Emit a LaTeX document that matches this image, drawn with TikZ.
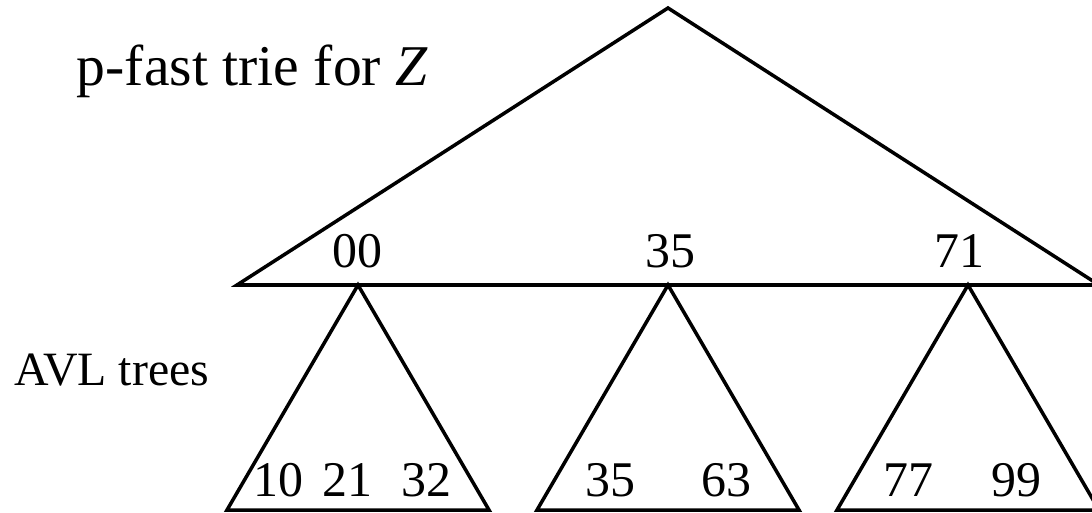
\documentclass[tikz,border=0pt]{standalone}
\usepackage{fontspec}
\setmainfont{Liberation Serif}
\begin{document}
\begin{tikzpicture}[x=0.01cm, y=-0.01cm, line width=1pt,
  lbl/.style={font=\fontsize{14.2}{17}\selectfont, inner sep=0pt, anchor=base}]
  \useasboundingbox (0,0) rectangle (1092,512);
  \clip (0,0) rectangle (1092,512);

  % ---- p-fast trie (top) ----
  \coordinate (top) at (668,8);
  \coordinate (tl) at (237,285);
  \coordinate (tr) at (1099,285);
  \draw (tl) -- (top) -- (tr) -- cycle;
  \node[lbl, anchor=base west, font=\fontsize{16.4}{19}\selectfont] (title) at (75,85) {p-fast trie for \textit{Z}};
  \node[lbl] (k00) at (357,267) {00};
  \node[lbl] (k35) at (670,267) {35};
  \node[lbl] (k71) at (959,267) {71};

  % ---- AVL trees (bottom) ----
  \foreach \nm/\x in {ta/358, tb/668, tc/968} {
    \coordinate (\nm) at (\x,285);
    \draw (\nm) -- ++(-131,225) -- ++(262,0) -- cycle;
  }
  \node[lbl, anchor=base west, font=\fontsize{13.6}{16}\selectfont] (avl) at (13,385) {AVL trees};
  \node[lbl] (a10) at (278,496) {10};
  \node[lbl] (a21) at (347,496) {21};
  \node[lbl] (a32) at (426,496) {32};
  \node[lbl] (b35) at (610,496) {35};
  \node[lbl] (b63) at (726,496) {63};
  \node[lbl] (c77) at (908,496) {77};
  \node[lbl] (c99) at (1016,496) {99};
\end{tikzpicture}
\end{document}
